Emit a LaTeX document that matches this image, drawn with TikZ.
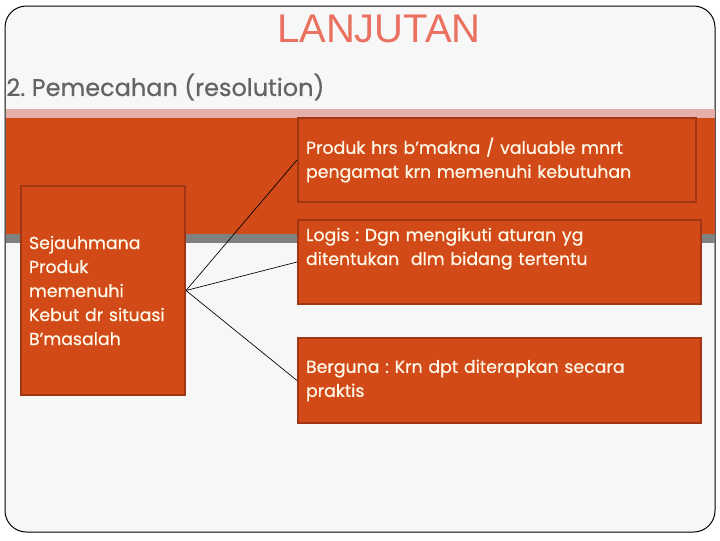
\documentclass[tikz,border=0pt]{standalone}
\usepackage{fontspec}
\setmainfont{Poppins}[FakeBold=0.6]
\newfontfamily\judulfont{Liberation Sans}
\frenchspacing
\definecolor{slidebg}{RGB}{247,247,247}
\definecolor{stripink}{RGB}{229,176,170}
\definecolor{bandorange}{RGB}{209,74,24}
\definecolor{bandgray}{RGB}{128,128,128}
\definecolor{boxedge}{RGB}{160,54,20}
\definecolor{cream}{RGB}{255,248,232}
\definecolor{judulred}{RGB}{234,112,96}
\definecolor{subgray}{RGB}{100,100,100}

\tikzset{every picture/.style={line width=0.75pt}}
\tikzset{
  idebox/.style={draw=boxedge, fill=bandorange, line width=1.5pt, text=cream,
    align=left, anchor=north west, inner xsep=6pt, inner ysep=0pt,
    font=\fontsize{13}{18}\selectfont},
  connector/.style={draw=black, line width=0.5pt},
}

\begin{document}
\begin{tikzpicture}[x=0.75pt,y=0.75pt,yscale=-1,xscale=1]
\useasboundingbox (0,0) rectangle (720,540);

%Rounded Rect [slide frame]
\draw [fill=slidebg, rounded corners=16pt] (5,6) rectangle (715,532);
%Shape: Rectangle [pink strip]
\fill [stripink] (5.5,109) rectangle (715,118);
%Shape: Rectangle [orange band]
\fill [bandorange] (5.5,118) rectangle (715,234);
%Shape: Rectangle [gray strip]
\fill [bandgray] (5.5,234) rectangle (715,243);

% Text Node
\node [font=\judulfont\fontsize{30}{30}\selectfont, text=judulred, inner sep=0.75pt] (judul) at (379,29) {LANJUTAN};
% Text Node
\node [font=\fontsize{18}{20}\selectfont, text=subgray, anchor=west, inner sep=0.75pt] (sub) at (5,87) {2. Pemecahan (resolution)};

% Boxes
\node [idebox, text width=111pt, minimum height=156.75pt] (sejauh) at (20,185)
  {Sejauhmana\\ Produk\\ memenuhi\\ Kebut dr situasi\\ B’masalah};
\node [idebox, text width=286.5pt, minimum height=63pt] (makna) at (297,117)
  {Produk hrs b’makna / valuable mnrt\\ pengamat krn memenuhi kebutuhan};
\node [idebox, text width=290.25pt, minimum height=63pt] (logis) at (297,219)
  {Logis : Dgn mengikuti aturan yg\\ ditentukan\ \ dlm bidang tertentu\\ \strut};
\node [idebox, text width=290.25pt, minimum height=63.75pt] (guna) at (297,337)
  {Berguna : Krn dpt diterapkan secara\\ praktis};

%Straight Lines
\draw [connector] (sejauh.east) -- (makna.west);
\draw [connector] (sejauh.east) -- (logis.west);
\draw [connector] (sejauh.east) -- (guna.west);
\end{tikzpicture}
\end{document}
